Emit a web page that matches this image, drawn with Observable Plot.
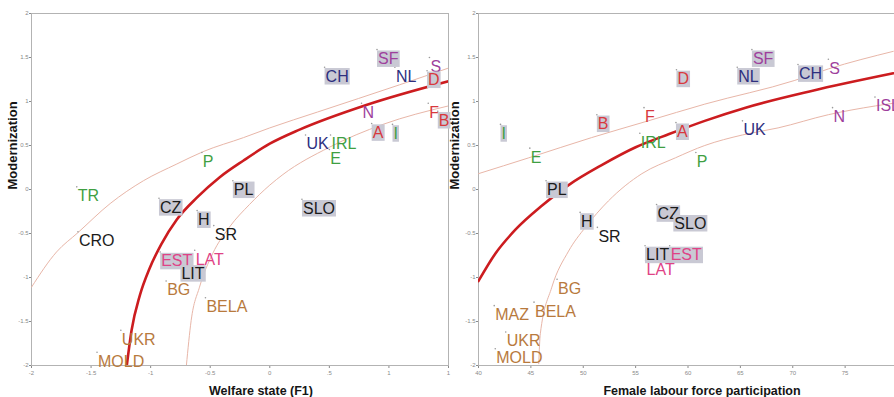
<!DOCTYPE html>
<html>
<head>
<meta charset="utf-8">
<script src="https://cdn.jsdelivr.net/npm/d3@7"></script>
<script src="https://cdn.jsdelivr.net/npm/@observablehq/plot@0.6"></script>
<style>
html, body { margin: 0; padding: 0; background: #fff; }
#wrap { position: relative; width: 894px; height: 397px; overflow: hidden; background: #fff; }
#left { position: absolute; left: 0; top: 0; width: 450px; height: 397px; }
#right { position: absolute; left: 445px; top: 0; width: 460px; height: 397px; }
#wrap svg { max-width: none !important; }
</style>
</head>
<body>
<div id="wrap"><div id="left"></div><div id="right"></div></div>
<script>
// ---------- data: left panel (Welfare state F1 vs Modernization) ----------
const leftCountries = ["SF","CH","NL","S","D","N","F","B","A","I","UK","IRL","E","P","PL","TR","CZ","H","SLO","SR","CRO","EST","LAT","LIT","BG","BELA","UKR","MOLD"];
const leftWelfare   = [0.90,0.46,1.05,1.34,1.32,0.77,1.33,1.41,0.855,1.03,0.30,0.51,0.50,-0.57,-0.31,-1.62,-0.93,-0.61,0.27,-0.47,-1.61,-0.92,-0.63,-0.75,-0.87,-0.54,-1.25,-1.45];
const leftModern    = [1.59,1.39,1.39,1.50,1.35,0.98,0.98,0.89,0.75,0.74,0.62,0.62,0.455,0.42,0.10,0.03,-0.10,-0.24,-0.11,-0.41,-0.48,-0.71,-0.69,-0.85,-1.04,-1.23,-1.60,-1.85];
const leftBoxed     = ["SF","CH","D","B","A","I","PL","CZ","H","SLO","EST","LIT"];

// fitted curve and band (left)
const leftFitX   = [-1.20,-1.16,-1.09,-1.01,-0.91,-0.78,-0.61,-0.42,-0.22,0.00,0.25,0.81,1.50];
const leftFitY   = [-2.00,-1.60,-1.20,-0.90,-0.62,-0.34,-0.09,0.14,0.33,0.52,0.68,0.96,1.23];
const leftUpperX = [-2.00,-1.79,-1.61,-1.34,-1.06,-0.78,-0.56,-0.22,0.00,0.40,1.09,1.50];
const leftUpperY = [-1.11,-0.71,-0.49,-0.16,0.10,0.29,0.43,0.59,0.70,0.88,1.19,1.38];
const leftLowerX = [-0.70,-0.66,-0.59,-0.48,-0.34,-0.17,0.00,0.11,0.50,0.95,1.50];
const leftLowerY = [-2.00,-1.49,-1.11,-0.73,-0.43,-0.17,0.05,0.17,0.48,0.74,0.95];

// ---------- data: right panel (Female labour force participation vs Modernization) ----------
const rightCountries = ["I","E","B","F","IRL","A","D","P","UK","NL","SF","CH","S","N","ISL","PL","H","SR","CZ","SLO","LIT","EST","LAT","BG","MAZ","BELA","UKR","MOLD"];
const rightFemale    = [42.1,44.9,51.3,55.8,55.4,58.85,58.9,60.75,65.2,64.7,66.1,70.5,73.4,73.8,77.85,46.45,49.7,51.35,57.0,58.6,55.9,58.25,55.95,47.5,41.5,45.3,42.6,41.6];
const rightModern    = [0.74,0.47,0.85,0.93,0.64,0.76,1.36,0.42,0.78,1.39,1.59,1.42,1.48,0.93,1.05,0.10,-0.26,-0.43,-0.17,-0.28,-0.64,-0.64,-0.81,-1.02,-1.32,-1.28,-1.62,-1.81];
const rightBoxed     = ["I","B","D","A","NL","SF","CH","PL","H","CZ","SLO","LIT","EST"];

const rightFitX   = [40.0,41.6,43.5,46.1,48.6,51.8,55.0,58.2,61.6,65.5,71.8,79.6];
const rightFitY   = [-1.04,-0.73,-0.46,-0.18,0.05,0.28,0.48,0.63,0.78,0.93,1.12,1.32];
const rightUpperX = [40.0,44.8,50.8,56.2,61.6,70.2,73.4,79.6];
const rightUpperY = [0.18,0.36,0.59,0.78,0.97,1.24,1.37,1.57];
const rightLowerX = [45.75,45.9,47.0,48.6,50.2,52.4,55.6,58.8,61.6,65.2,68.6,73.4,77.9,79.6];
const rightLowerY = [-1.98,-1.64,-1.11,-0.70,-0.43,-0.13,0.18,0.36,0.50,0.62,0.70,0.85,0.95,0.98];

// ---------- country groups (colour classes) ----------
const groupNordic  = ["SF","S","N","ISL"];
const groupWest    = ["D","F","B","A"];
const groupLiberal = ["CH","NL","UK"];
const groupSouth   = ["I","E","P","IRL","TR"];
const groupEast    = ["PL","CZ","H","SLO","SR","CRO","LIT"];
const groupBaltic  = ["EST","LAT"];
const groupCIS     = ["BG","BELA","UKR","MOLD","MAZ"];

// ---------- axis ticks ----------
const leftXTicks = [-2,-1.5,-1,-0.5,0,0.5,1,1.5];
const leftXTickLabels = ["-2","-1.5","-1","-0.5","0",".5","1","1"];
const rightXTicks = [40,45,50,55,60,65,70,75];
const yTicks = [-2,-1.5,-1,-0.5,0,0.5,1,1.5,2];
const yTickLabels = ["-2","-1.5","-1","-0.5","0","0.5","1","1.5","2"];

// ---------- styling ----------
function colorOf(c) {
  if (groupNordic.includes(c)) return "#9e3f9c";
  if (groupWest.includes(c)) return "#d8383d";
  if (groupLiberal.includes(c)) return "#2d2f7f";
  if (groupSouth.includes(c)) return "#3f9f42";
  if (groupEast.includes(c)) return "#1b1b1b";
  if (groupBaltic.includes(c)) return "#df4386";
  if (groupCIS.includes(c)) return "#b87a3d";
  return "#000";
}
const FONT = "'Liberation Sans', Arial, Helvetica, sans-serif";
const BOX = "#c9c9d4";

function rows(names, xs, ys, boxed) {
  return names.map((n, i) => ({name: n, x: xs[i], y: ys[i], boxed: boxed.includes(n)}));
}
function pts(xs, ys) { return xs.map((x, i) => ({x, y: ys[i]})); }

function panel({width, marginLeft, marginRight, xDomain, xTicks, xTickFormat, data, fit, upper, lower, xTitle, xTitleDx, yTitleDx}) {
  return Plot.plot({
    width, height: 397,
    marginLeft, marginRight, marginTop: 13, marginBottom: 32,
    style: {fontFamily: FONT, fontSize: "6px", color: "#8a8a8a", background: "transparent", overflow: "visible", maxWidth: "none"},
    x: {domain: xDomain, ticks: xTicks, tickFormat: xTickFormat, tickSize: 3, tickPadding: 2, label: null},
    y: {domain: [-2, 2], ticks: yTicks, tickFormat: (d) => yTickLabels[yTicks.indexOf(d)], tickSize: 2, tickPadding: 1, label: null},
    marks: [
      Plot.frame({stroke: "#b3b3b3"}),
      Plot.line(upper, {x: "x", y: "y", stroke: "#e8b6a8", strokeWidth: 1, curve: "monotone-x", clip: true}),
      Plot.line(lower, {x: "x", y: "y", stroke: "#e8b6a8", strokeWidth: 1, curve: "monotone-x", clip: true}),
      Plot.line(fit, {x: "x", y: "y", stroke: "#cc1c1f", strokeWidth: 2.6, curve: "monotone-x", clip: true}),
      Plot.dot(data, {x: "x", y: "y", r: 0.8, fill: "#9a9a9a", stroke: null}),
      Plot.text(data, {
        x: "x", y: "y", text: "name",
        fill: d => colorOf(d.name),
        ariaLabel: d => d.boxed ? "boxed-label" : "plain-label",
        textAnchor: "start", lineAnchor: "top", dx: 1, dy: 3,
        fontSize: 16, fontFamily: FONT
      }),
      Plot.text([xTitle], {frameAnchor: "bottom", dy: 29, dx: xTitleDx, fontSize: 12.5, fontWeight: "bold", fill: "#151515", fontFamily: FONT, lineAnchor: "bottom"}),
      Plot.text(["Modernization"], {frameAnchor: "left", dx: yTitleDx, rotate: -90, fontSize: 13, fontWeight: "bold", fill: "#151515", fontFamily: FONT})
    ]
  });
}

function addBoxes(svg) {
  svg.querySelectorAll('text[aria-label="boxed-label"]').forEach(t => {
    const b = t.getBBox();
    const r = document.createElementNS("http://www.w3.org/2000/svg", "rect");
    r.setAttribute("x", b.x - 1);
    r.setAttribute("y", b.y + 0.5);
    r.setAttribute("width", b.width + 2);
    r.setAttribute("height", b.height - 0.5);
    r.setAttribute("fill", BOX);
    const tr = t.getAttribute("transform");
    if (tr) r.setAttribute("transform", tr);
    t.parentNode.insertBefore(r, t);
  });
}

const leftSvg = panel({
  width: 450, marginLeft: 31, marginRight: 2,
  xDomain: [-2, 1.5], xTicks: leftXTicks,
  xTickFormat: d => leftXTickLabels[leftXTicks.indexOf(d)],
  data: rows(leftCountries, leftWelfare, leftModern, leftBoxed),
  fit: pts(leftFitX, leftFitY), upper: pts(leftUpperX, leftUpperY), lower: pts(leftLowerX, leftLowerY),
  xTitle: "Welfare state (F1)", xTitleDx: 21, yTitleDx: -19
});
document.getElementById("left").appendChild(leftSvg);
addBoxes(leftSvg);

const rightSvg = panel({
  width: 460, marginLeft: 33, marginRight: 8,
  xDomain: [40, 80], xTicks: rightXTicks,
  xTickFormat: d => String(d),
  data: rows(rightCountries, rightFemale, rightModern, rightBoxed),
  fit: pts(rightFitX, rightFitY), upper: pts(rightUpperX, rightUpperY), lower: pts(rightLowerX, rightLowerY),
  xTitle: "Female labour force participation", xTitleDx: 14, yTitleDx: -24
});
document.getElementById("right").appendChild(rightSvg);
addBoxes(rightSvg);
</script>
</body>
</html>
